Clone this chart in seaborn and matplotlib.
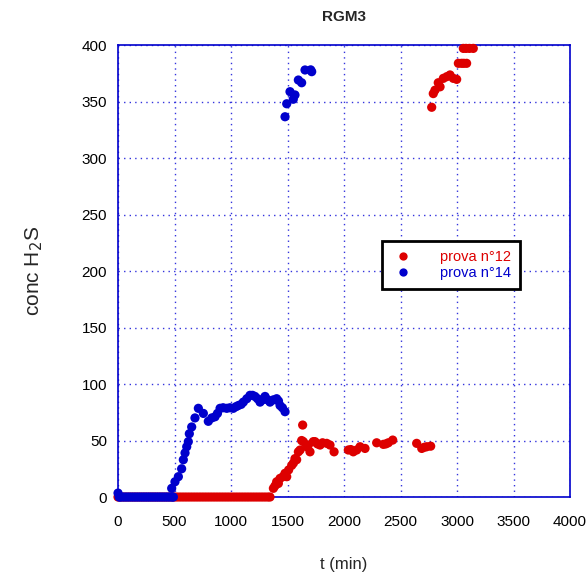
import matplotlib
matplotlib.use("Agg")
import matplotlib.pyplot as plt
import seaborn as sns
import pandas as pd

# prova n°12 (red)
x12 = [0, 25, 50, 75, 100, 125, 150, 175, 200, 225, 250, 275, 300, 325, 350, 375, 400, 425,
       450, 475, 500, 525, 550, 575, 600, 625, 650, 675, 700, 725, 750, 775, 800, 825, 850,
       875, 900, 925, 950, 975, 1000, 1025, 1050, 1075, 1100, 1125, 1150, 1175, 1200, 1225,
       1250, 1275, 1300, 1325, 1345,
       1375, 1390, 1404, 1419, 1434, 1460, 1478, 1493, 1510, 1537, 1552, 1566, 1581, 1596,
       1611, 1625, 1634, 1640, 1670, 1684, 1699, 1728, 1743, 1765, 1788, 1810, 1847, 1876,
       1912, 2038, 2060, 2082, 2112, 2142, 2186, 2289, 2348, 2370, 2392, 2431, 2643, 2688,
       2710, 2732, 2767,
       2776, 2790, 2805, 2834, 2850, 2879, 2910, 2938, 2967, 2997, 3012, 3040, 3060, 3085,
       3056, 3080, 3110, 3144]
y12 = [0] * 55 + [
       7.7, 10, 13.5, 12, 16.5, 18, 21, 18, 24, 28, 30, 34, 33, 40,
       41.6, 50, 63.7, 49, 44.5, 46, 40, 49, 49, 47, 46, 48, 47.5, 46,
       40, 41.6, 42, 40, 41.6, 44.5, 43, 48, 46.6, 47, 48, 50.4, 47.5, 43,
       44, 44.5, 45,
       344.9, 357, 360, 366.6, 363, 370.5, 372, 373.5, 370.5, 369.6, 383.8, 383.8, 383.8, 383.8,
       397, 397, 397, 397]

# prova n°14 (blue)
x14 = [0, 10, 20, 40, 60, 80, 100, 120, 140, 160, 180, 200, 220, 240, 260, 280, 300, 320,
       340, 360, 380, 400, 420, 440, 460, 480, 490,
       475, 504, 534, 563, 578, 593, 608, 622, 631, 652, 681, 711, 755, 799, 830, 858, 880,
       903, 930, 962, 990, 1020, 1045, 1065, 1090, 1109, 1140, 1168, 1190, 1212, 1235, 1257,
       1280, 1301, 1325, 1345, 1375, 1404, 1420, 1434, 1455, 1478,
       1478, 1493, 1522, 1551, 1566, 1596, 1625, 1655, 1705, 1714]
y14 = [3.5, 0, 0, 0, 0, 0, 0, 0, 0, 0, 0, 0, 0, 0, 0, 0, 0, 0,
       0, 0, 0, 0, 0, 0, 0, 0, 0,
       7.7, 13.5, 18, 25, 33, 39, 44.5, 49, 56, 62, 70, 78.5, 74, 67, 70, 71, 74,
       78.5, 79, 78.5, 79, 78.5, 80, 81, 82, 84, 87, 90, 90, 89, 87, 84,
       86, 89, 86, 84, 86, 87, 85, 81, 79, 75.5,
       336.5, 348, 358.7, 352, 355.8, 369, 366.6, 377.9, 378, 376.4]

series_names = ["prova n°12", "prova n°14"]
red = "#dd0000"
blue = "#0000cc"

df = pd.concat([
    pd.DataFrame({"t": x12, "c": y12, "serie": series_names[0]}),
    pd.DataFrame({"t": x14, "c": y14, "serie": series_names[1]}),
])

sns.set_style("white")
plt.rcParams["font.family"] = ["Liberation Sans", "DejaVu Sans"]

fig = plt.figure(figsize=(5.86, 5.74), dpi=100)
ax = fig.add_axes([0.2014, 0.1341, 0.7713, 0.7875])

sns.scatterplot(data=df, x="t", y="c", hue="serie",
                palette={series_names[0]: red, series_names[1]: blue},
                s=44, linewidth=0, ax=ax, zorder=3, clip_on=False)

ax.set_xlim(0, 4000)
ax.set_ylim(0, 400)
ax.set_xticks(range(0, 4001, 500))
ax.set_yticks(range(0, 401, 50))
ax.tick_params(axis="both", labelsize=11, length=0, colors="black")
ax.tick_params(axis="x", pad=13)
ax.tick_params(axis="y", pad=8)
ax.grid(True, color="#3333dd", linestyle=(0, (1, 3)), linewidth=1.0)
for sp in ax.spines.values():
    sp.set_color("#0000cc")
    sp.set_linewidth(1.2)
    sp.set_visible(True)

ax.set_title("RGM3", fontsize=11, fontweight="bold", pad=17)
ax.set_xlabel("t (min)", fontsize=12, labelpad=20)
ax.set_ylabel("conc H$_2$S", fontsize=15, labelpad=26)

leg = ax.legend(loc="center", bbox_to_anchor=(0.737, 0.513), fontsize=10.5,
                frameon=True, fancybox=False, edgecolor="black", framealpha=1,
                handletextpad=1.8, borderpad=0.6, markerscale=0.9, labelspacing=0.15,
                handlelength=1.6, borderaxespad=0)
leg.get_frame().set_linewidth(2)
for txt, col in zip(leg.get_texts(), [red, blue]):
    txt.set_color(col)

fig.savefig("out.png", dpi=100)
